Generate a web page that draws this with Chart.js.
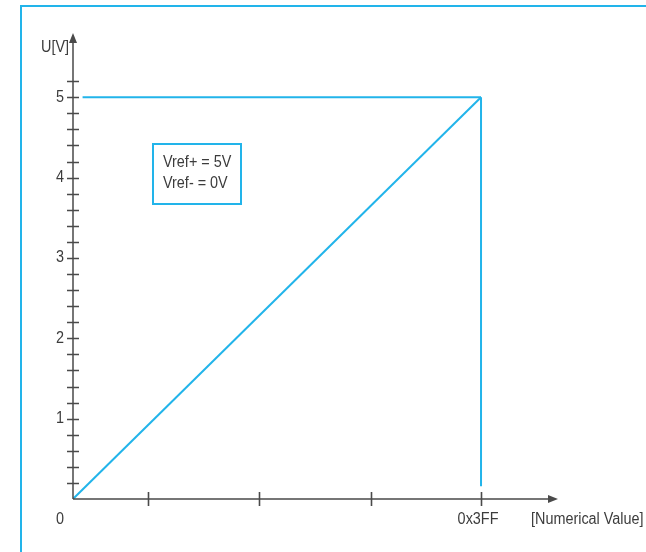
<!DOCTYPE html>
<html>
<head>
<meta charset="utf-8">
<script src="https://cdn.jsdelivr.net/npm/chart.js@4"></script>
<style>
  html, body { margin: 0; padding: 0; background: #fff; }
  #wrap { width: 646px; height: 552px; position: relative; }
</style>
</head>
<body>
<div id="wrap"><canvas id="adcChart" width="646" height="552"></canvas></div>
<script>
// 資料
const rampX = [0, 1023];
const rampY = [0, 5];
const vrefTopX = [24, 1023];
const vrefTopY = [5, 5];
const vrefSideX = [1023, 1023];
const vrefSideY = [5, 0.16];
const xTickValues = [188, 466, 747, 1023];
const xTickLabels = ['', '', '', '0x3FF'];
const yTickValues = [0.2, 0.4, 0.6, 0.8, 1, 1.2, 1.4, 1.6, 1.8, 2, 2.2, 2.4, 2.6, 2.8, 3,
  3.2, 3.4, 3.6, 3.8, 4, 4.2, 4.4, 4.6, 4.8, 5, 5.2];
const yTickLabels = ['1', '2', '3', '4', '5'];
const noteLines = ['Vref+ = 5V', 'Vref- = 0V'];

const cyan = '#22b4ea';
const axisGray = '#4a4a4a';
const textGray = '#3c3c3c';
const textFont = "16px 'Liberation Sans', Arial, sans-serif";

function toPoints(xs, ys) {
  return xs.map((x, i) => ({ x: x, y: ys[i] }));
}

// 窄體文字 (水平壓縮)
function narrowText(ctx, text, x, y, align) {
  ctx.save();
  ctx.translate(x, y);
  ctx.scale(0.9, 1);
  ctx.textAlign = align;
  ctx.fillText(text, 0, 0);
  ctx.restore();
}

// 軸、刻度、文字框
const axesPlugin = {
  id: 'axesPlugin',
  afterDraw(chart) {
    const ctx = chart.ctx;
    const xs = chart.scales.x;
    const ys = chart.scales.y;
    const x0 = xs.getPixelForValue(0);
    const y0 = ys.getPixelForValue(0);
    const xEnd = xs.getPixelForValue(xs.max);
    const yEnd = ys.getPixelForValue(ys.max);
    ctx.save();

    // 外框
    ctx.strokeStyle = cyan;
    ctx.lineWidth = 2;
    ctx.beginPath();
    ctx.moveTo(21, 552);
    ctx.lineTo(21, 6);
    ctx.lineTo(646, 6);
    ctx.stroke();

    // 軸線
    ctx.strokeStyle = axisGray;
    ctx.fillStyle = axisGray;
    ctx.lineWidth = 1.5;
    ctx.beginPath();
    ctx.moveTo(x0, y0);
    ctx.lineTo(xEnd - 8, y0);
    ctx.moveTo(x0, y0);
    ctx.lineTo(x0, yEnd + 8);
    ctx.stroke();
    // 箭頭
    ctx.beginPath();
    ctx.moveTo(xEnd, y0);
    ctx.lineTo(xEnd - 10, y0 - 4);
    ctx.lineTo(xEnd - 10, y0 + 4);
    ctx.closePath();
    ctx.fill();
    ctx.beginPath();
    ctx.moveTo(x0, yEnd);
    ctx.lineTo(x0 - 4, yEnd + 10);
    ctx.lineTo(x0 + 4, yEnd + 10);
    ctx.closePath();
    ctx.fill();

    // 刻度
    ctx.lineWidth = 1.6;
    ctx.beginPath();
    yTickValues.forEach(v => {
      const py = Math.round(ys.getPixelForValue(v)) + 0.5;
      ctx.moveTo(x0 - 6, py);
      ctx.lineTo(x0 + 6, py);
    });
    xTickValues.forEach(v => {
      const px = Math.round(xs.getPixelForValue(v)) + 0.5;
      ctx.moveTo(px, y0 - 7);
      ctx.lineTo(px, y0 + 7);
    });
    ctx.stroke();

    // 刻度文字
    ctx.fillStyle = textGray;
    ctx.font = textFont;
    ctx.textBaseline = 'middle';
    yTickLabels.forEach(t => {
      narrowText(ctx, t, x0 - 9, ys.getPixelForValue(Number(t)), 'right');
    });
    narrowText(ctx, '0', x0 - 13, y0 + 21, 'center');
    xTickValues.forEach((v, i) => {
      if (xTickLabels[i]) narrowText(ctx, xTickLabels[i], xs.getPixelForValue(v) - 3, y0 + 21, 'center');
    });
    narrowText(ctx, '[Numerical Value]', 531, y0 + 21, 'left');
    narrowText(ctx, 'U[V]', x0 - 4, 48, 'right');

    // 文字框
    ctx.strokeStyle = cyan;
    ctx.lineWidth = 2;
    ctx.strokeRect(153, 144, 88, 60);
    narrowText(ctx, noteLines[0], 163, 163, 'left');
    narrowText(ctx, noteLines[1], 163, 184, 'left');

    ctx.restore();
  }
};

const lineStyle = {
  borderColor: cyan,
  borderWidth: 2,
  pointRadius: 0,
  showLine: true,
  fill: false,
  tension: 0
};

new Chart(document.getElementById('adcChart').getContext('2d'), {
  type: 'scatter',
  data: {
    datasets: [
      Object.assign({ label: 'ramp', data: toPoints(rampX, rampY) }, lineStyle),
      Object.assign({ label: 'vrefTop', data: toPoints(vrefTopX, vrefTopY) }, lineStyle),
      Object.assign({ label: 'vrefSide', data: toPoints(vrefSideX, vrefSideY) }, lineStyle)
    ]
  },
  options: {
    responsive: false,
    animation: false,
    events: [],
    layout: { padding: { top: 33, right: 88, left: 0, bottom: 0 } },
    plugins: { legend: { display: false }, tooltip: { enabled: false } },
    scales: {
      x: {
        type: 'linear',
        min: 0,
        max: 1216,
        grid: { display: false },
        border: { display: false },
        ticks: { display: false },
        afterFit(scale) { scale.height = 53; }
      },
      y: {
        type: 'linear',
        min: 0,
        max: 5.8,
        grid: { display: false },
        border: { display: false },
        ticks: { display: false },
        afterFit(scale) { scale.width = 73; }
      }
    }
  },
  plugins: [axesPlugin]
});
</script>
</body>
</html>
